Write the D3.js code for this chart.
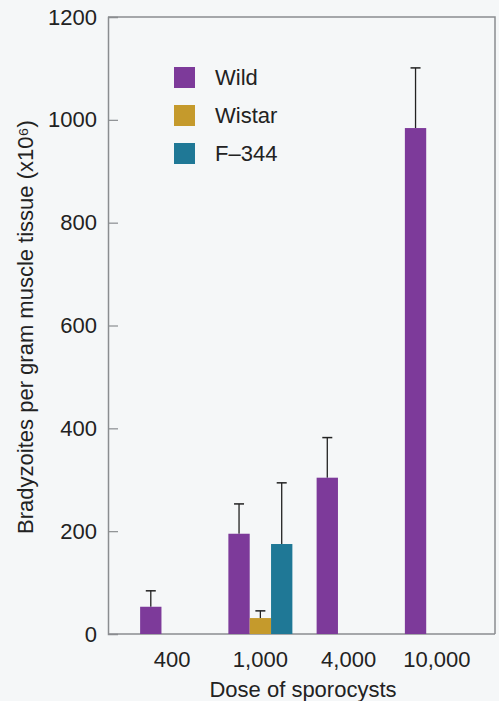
<!DOCTYPE html>
<meta charset="utf-8">
<script src="https://d3js.org/d3.v7.min.js"></script>
<style>
  body { margin: 0; background: #f5f7f8; }
  text { font-family: "Liberation Sans", Arial, sans-serif; fill: #222; }
</style>
<div id="chart"></div>
<script>

// data
var doses = ["400", "1,000", "4,000", "10,000"];
var strains = ["Wild", "Wistar", "F\u2013344"];
var wildMean = [53, 195, 304, 984];
var wildErr = [84, 253, 382, 1101];
var wistarMean = [null, 31, null, null];
var wistarErr = [null, 45, null, null];
var f344Mean = [null, 175, null, null];
var f344Err = [null, 294, null, null];
var yTicks = [0, 200, 400, 600, 800, 1000, 1200];

var colors = ["#7d3a9a", "#c59a2c", "#1f7896"];

var width = 499, height = 701;
var plotLeft = 108, plotRight = 495, plotTop = 17, plotBottom = 634;
var fontSize = "22px";

var svg = d3.select("#chart").append("svg")
    .attr("width", width)
    .attr("height", height);

var y = d3.scaleLinear().domain([0, 1200]).range([plotBottom, plotTop]);

var x = d3.scaleBand().domain(doses).range([128, 481]).padding(0);
var xSub = d3.scaleBand().domain(strains).range([-32, 32]).padding(0);

// frame: top and right lines
svg.append("path")
    .attr("d", "M" + plotLeft + "," + plotTop + "H" + plotRight + "V" + plotBottom)
    .attr("fill", "none")
    .attr("stroke", "#8a8d90")
    .attr("stroke-width", 1.5);

// y axis, ticks pointing inwards
var yAxis = svg.append("g")
    .attr("transform", "translate(" + plotLeft + ",0)")
    .call(d3.axisRight(y).tickValues(yTicks).tickSize(10).tickFormat(d3.format("d")));
yAxis.select(".domain").attr("stroke", "#8a8d90").attr("stroke-width", 1.5);
yAxis.selectAll(".tick line").attr("stroke", "#8a8d90").attr("stroke-width", 1.2);
yAxis.selectAll(".tick text")
    .attr("text-anchor", "end")
    .attr("x", -11)
    .style("font-size", fontSize)
    .style("font-family", "Liberation Sans, Arial, sans-serif")
    .attr("fill", "#222");
yAxis.selectAll(".tick").filter(function(d) { return d == 1200 || d == 0; }).select("line").remove();

// x axis line and labels
var xAxis = svg.append("g")
    .attr("transform", "translate(0," + plotBottom + ")")
    .call(d3.axisBottom(x).tickSize(0).tickPadding(17));
xAxis.select(".domain").attr("d", "M" + plotLeft + ",0H" + plotRight).attr("stroke", "#8a8d90").attr("stroke-width", 1.5);
xAxis.selectAll(".tick text")
    .style("font-size", fontSize)
    .style("font-family", "Liberation Sans, Arial, sans-serif")
    .attr("fill", "#222");

// bars
var series = [
  { name: strains[0], mean: wildMean, err: wildErr, color: colors[0] },
  { name: strains[1], mean: wistarMean, err: wistarErr, color: colors[1] },
  { name: strains[2], mean: f344Mean, err: f344Err, color: colors[2] }
];

var rows = [];
series.forEach(function(s) {
  doses.forEach(function(d, i) {
    if (s.mean[i] != null) rows.push({ dose: d, strain: s.name, mean: s.mean[i], err: s.err[i], color: s.color });
  });
});

function cx(d) { return x(d.dose) + x.bandwidth() / 2 + xSub(d.strain) + xSub.bandwidth() / 2; }

// error bars (upward only)
svg.selectAll(".err").data(rows).enter().append("line")
    .attr("x1", cx).attr("x2", cx)
    .attr("y1", function(d) { return y(d.mean); })
    .attr("y2", function(d) { return y(d.err); })
    .attr("stroke", "#222").attr("stroke-width", 1.3);
svg.selectAll(".cap").data(rows).enter().append("line")
    .attr("x1", function(d) { return cx(d) - 5; })
    .attr("x2", function(d) { return cx(d) + 5; })
    .attr("y1", function(d) { return y(d.err); })
    .attr("y2", function(d) { return y(d.err); })
    .attr("stroke", "#222").attr("stroke-width", 1.5);

svg.selectAll(".bar").data(rows).enter().append("rect")
    .attr("x", function(d) { return x(d.dose) + x.bandwidth() / 2 + xSub(d.strain); })
    .attr("width", xSub.bandwidth())
    .attr("y", function(d) { return y(d.mean); })
    .attr("height", function(d) { return plotBottom - y(d.mean); })
    .attr("fill", function(d) { return d.color; });

// legend
var legend = svg.selectAll(".legend").data(series).enter().append("g")
    .attr("transform", function(d, i) { return "translate(174," + (67 + i * 38) + ")"; });
legend.append("rect").attr("width", 21).attr("height", 21).attr("fill", function(d) { return d.color; });
legend.append("text").attr("x", 41).attr("y", 18).text(function(d) { return d.name; }).style("font-size", fontSize);

// axis titles
svg.append("text")
    .attr("transform", "translate(33,327) rotate(-90)")
    .attr("text-anchor", "middle")
    .style("font-size", fontSize)
    .text("Bradyzoites per gram muscle tissue (x10\u2076)");

svg.append("text")
    .attr("x", 303).attr("y", 697)
    .attr("text-anchor", "middle")
    .style("font-size", fontSize)
    .text("Dose of sporocysts");

</script>
